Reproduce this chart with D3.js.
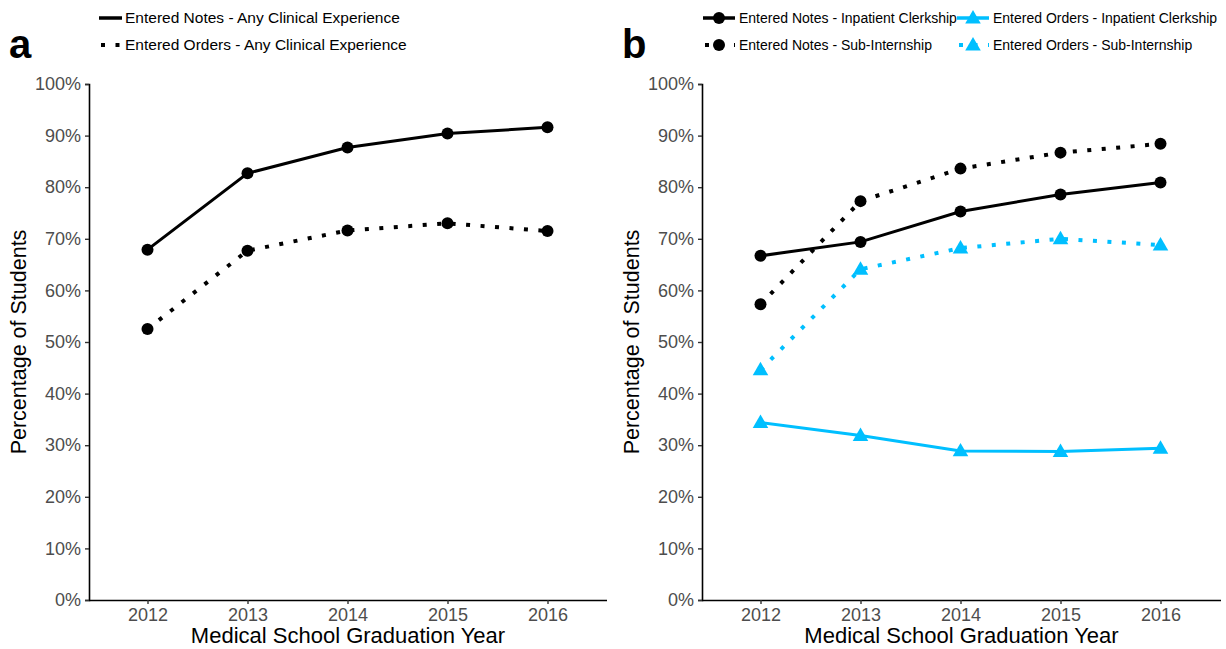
<!DOCTYPE html>
<html>
<head>
<meta charset="utf-8">
<script src="https://cdn.jsdelivr.net/npm/d3@7"></script>
<style>
  body { margin: 0; background: #fff; }
  svg { font-family: "Liberation Sans", Arial, sans-serif; }
</style>
</head>
<body>
<div id="chart"></div>
<script>
const years = [2012, 2013, 2014, 2015, 2016];
const yTicks = [0, 10, 20, 30, 40, 50, 60, 70, 80, 90, 100];

// panel a
const notesAny = [67.9, 82.7, 87.7, 90.4, 91.6];
const ordersAny = [52.5, 67.7, 71.6, 73.0, 71.5];

// panel b
const notesClerk = [66.7, 69.4, 75.3, 78.6, 80.9];
const notesSubI = [57.3, 77.3, 83.6, 86.7, 88.4];
const ordersClerk = [34.4, 31.9, 28.9, 28.8, 29.4];
const ordersSubI = [44.6, 64.1, 68.2, 70.0, 68.8];

const BLUE = "#00bfff";
const DOTS = "4,10.5";

const W = 1226, H = 649;
const svg = d3.select("#chart").append("svg")
  .attr("width", W).attr("height", H);

const panels = [
  {
    letter: "a", left: 89, right: 607,
    series: [
      { name: "Entered Notes - Any Clinical Experience", values: notesAny, color: "#000", dotted: false, shape: "circle" },
      { name: "Entered Orders - Any Clinical Experience", values: ordersAny, color: "#000", dotted: true, shape: "circle" }
    ]
  },
  {
    letter: "b", left: 702, right: 1221,
    series: [
      { name: "Entered Notes - Inpatient Clerkship", values: notesClerk, color: "#000", dotted: false, shape: "circle" },
      { name: "Entered Notes - Sub-Internship", values: notesSubI, color: "#000", dotted: true, shape: "circle" },
      { name: "Entered Orders - Inpatient Clerkship", values: ordersClerk, color: BLUE, dotted: false, shape: "triangle" },
      { name: "Entered Orders - Sub-Internship", values: ordersSubI, color: BLUE, dotted: true, shape: "triangle" }
    ]
  }
];

const plotTop = 84, plotBottom = 600;

function drawMarker(g, shape, color, x, y) {
  if (shape === "circle") {
    g.append("circle").attr("cx", x).attr("cy", y).attr("r", 6).attr("fill", color);
  } else {
    g.append("path")
      .attr("transform", `translate(${x},${y + 1})`)
      .attr("d", d3.symbol(d3.symbolTriangle, 105)())
      .attr("fill", color);
  }
}

panels.forEach(p => {
  const x = d3.scaleLinear()
    .domain([2012, 2016])
    .range([p.left + 58.5, p.left + 458.5]);
  const y = d3.scaleLinear().domain([0, 100]).range([plotBottom, plotTop]);

  const g = svg.append("g");

  // axes
  const yAxis = g.append("g")
    .attr("transform", `translate(${p.left},0)`)
    .call(d3.axisLeft(y).tickValues(yTicks).tickFormat(d => d + "%").tickSizeOuter(0).tickSize(4));
  yAxis.select(".domain").attr("stroke", "#000").attr("stroke-width", 1.6);
  yAxis.selectAll(".tick line").attr("stroke", "#333").attr("stroke-width", 1.4);
  yAxis.selectAll("text").attr("fill", "#4d4d4d").style("font-size", "18px").attr("x", -8);

  const xAxis = g.append("g")
    .attr("transform", `translate(0,${plotBottom})`)
    .call(d3.axisBottom(x).tickValues(years).tickFormat(d3.format("d")).tickSizeOuter(0).tickSize(4));
  xAxis.select(".domain").attr("d", `M${p.left},0.5H${p.right}`)
    .attr("stroke", "#000").attr("stroke-width", 1.6);
  xAxis.selectAll(".tick line").attr("stroke", "#333").attr("stroke-width", 1.4);
  xAxis.selectAll("text").attr("fill", "#4d4d4d").style("font-size", "18px").attr("y", 8);

  // axis titles
  g.append("text")
    .attr("x", (p.left + p.right) / 2).attr("y", 643)
    .attr("text-anchor", "middle").style("font-size", "22px")
    .text("Medical School Graduation Year");
  g.append("text")
    .attr("transform", `translate(${p.left - 63},${(plotTop + plotBottom) / 2}) rotate(-90)`)
    .attr("text-anchor", "middle").style("font-size", "21.5px")
    .text("Percentage of Students");

  // lines
  const line = d3.line().x((d, i) => x(years[i])).y(d => y(d));
  p.series.forEach(s => {
    g.append("path")
      .datum(s.values)
      .attr("d", line)
      .attr("fill", "none")
      .attr("stroke", s.color)
      .attr("stroke-width", s.dotted ? 4 : 3)
      .attr("stroke-dasharray", s.dotted ? DOTS : null);
    s.values.forEach((v, i) => drawMarker(g, s.shape, s.color, x(years[i]), y(v)));
  });

  // panel letter
  svg.append("text")
    .attr("x", p.left - 80).attr("y", 58)
    .style("font-size", "40px").style("font-weight", "bold")
    .text(p.letter);
});

// legend a
const legA = svg.append("g");
panels[0].series.forEach((s, i) => {
  const ly = 18 + i * 27;
  const lg = legA.append("g").attr("transform", `translate(99,${ly})`);
  lg.append("line").attr("x1", s.dotted ? 2 : 0).attr("x2", 23).attr("y1", 0).attr("y2", 0)
    .attr("stroke", s.color).attr("stroke-width", s.dotted ? 4 : 3.5)
    .attr("stroke-dasharray", s.dotted ? DOTS : null);
  lg.append("text").attr("x", 26).attr("y", 0).attr("dy", "0.35em")
    .style("font-size", "15.5px").text(s.name);
});

// legend b
const legB = svg.append("g");
const posB = [[703, 18], [703, 45], [957, 18], [957, 45]];
panels[1].series.forEach((s, i) => {
  const [lx, ly] = posB[i];
  const lg = legB.append("g").attr("transform", `translate(${lx},${ly})`);
  lg.append("line").attr("x1", s.dotted ? 2 : 0).attr("x2", 32).attr("y1", 0).attr("y2", 0)
    .attr("stroke", s.color).attr("stroke-width", s.dotted ? 4 : 3.5)
    .attr("stroke-dasharray", s.dotted ? DOTS : null);
  drawMarker(lg, s.shape, s.color, 16, 0);
  lg.append("text").attr("x", 36).attr("y", 0).attr("dy", "0.35em")
    .style("font-size", "14px").text(s.name);
});
</script>
</body>
</html>
